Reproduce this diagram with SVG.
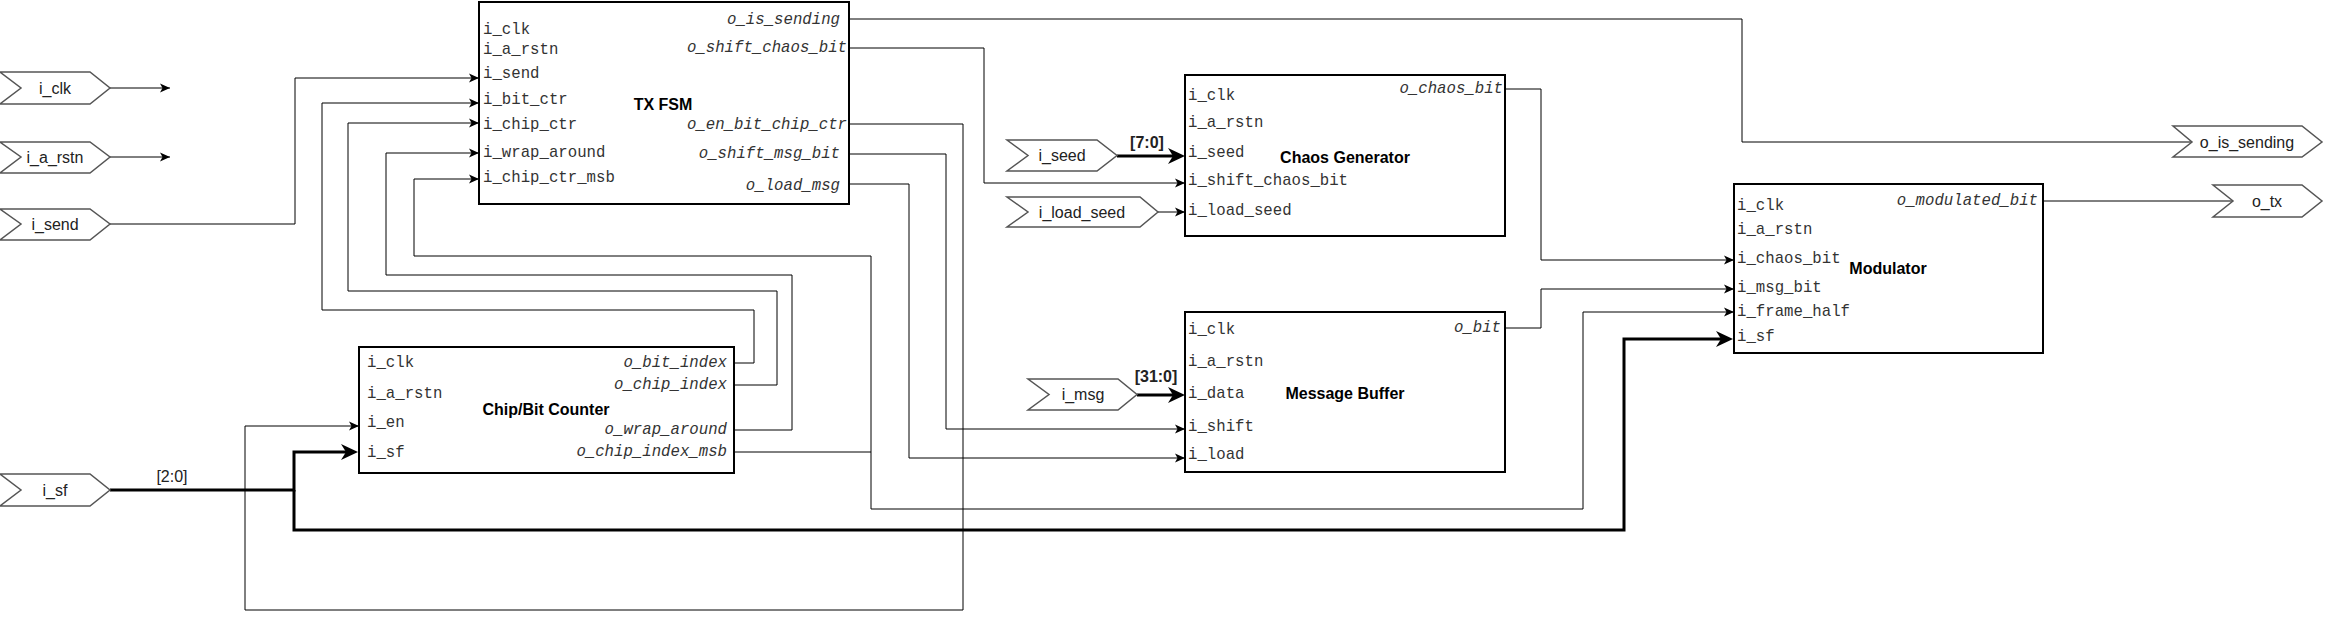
<svg xmlns="http://www.w3.org/2000/svg" width="2326" height="622" viewBox="0 0 2326 622">
<style>
.box{fill:#fff;stroke:#000;stroke-width:2}
.pin{font-family:"Liberation Mono","Courier New",monospace;font-size:15.7px;fill:#333;dominant-baseline:central}
.out{font-style:italic;text-anchor:end}
.title{font-family:"Liberation Sans",Arial,sans-serif;font-weight:bold;font-size:16px;text-anchor:middle;dominant-baseline:central;fill:#000}
.term{fill:#fff;stroke:#555;stroke-width:1.5}
.tl{font-family:"Liberation Sans",Arial,sans-serif;font-size:16px;text-anchor:middle;dominant-baseline:central;fill:#222}
.bl{font-family:"Liberation Sans",Arial,sans-serif;font-size:16px;text-anchor:middle;dominant-baseline:central;fill:#222}
.w{fill:none;stroke:#000;stroke-width:1}
.bus{fill:none;stroke:#000;stroke-width:3}
</style>
<defs>
<marker id="a" markerUnits="userSpaceOnUse" markerWidth="11" markerHeight="11" refX="10" refY="5" orient="auto" overflow="visible">
<path d="M0,0.5 L10,5 L0,9.5 L2.5,5 Z" fill="#000"/>
</marker>
<marker id="ab" markerUnits="userSpaceOnUse" markerWidth="18" markerHeight="18" refX="12" refY="8" orient="auto" overflow="visible">
<path d="M0,0 L17,8 L0,16 L5,8 Z" fill="#000"/>
</marker>
</defs>
<rect width="2326" height="622" fill="#fff"/>

<g id="connectors">
<path class="w" marker-end="url(#a)" d="M110,88 H170"/>
<path class="w" marker-end="url(#a)" d="M110,157 H170"/>
<path class="w" marker-end="url(#a)" d="M110,224 H295 V78 H479"/>
<path class="w" marker-end="url(#a)" d="M734,363 H754 V310 H322 V103 H479"/>
<path class="w" marker-end="url(#a)" d="M734,385 H777 V291 H348 V123 H479"/>
<path class="w" marker-end="url(#a)" d="M734,430 H792 V275 H386 V153 H479"/>
<path class="w" marker-end="url(#a)" d="M734,452 H871 V256 H414 V179 H479"/>
<path class="w" marker-end="url(#a)" d="M871,452 V509 H1583 V312 H1734"/>
<path class="w" d="M849,19 H1742 V142 H2192"/>
<path class="w" marker-end="url(#a)" d="M849,48 H984 V183 H1185"/>
<path class="w" marker-end="url(#a)" d="M849,124 H963 V610 H245 V426 H359"/>
<path class="w" marker-end="url(#a)" d="M849,154 H946 V429 H1185"/>
<path class="w" marker-end="url(#a)" d="M849,184 H909 V458 H1185"/>
<path class="w" marker-end="url(#a)" d="M1158,212 H1185"/>
<path class="w" marker-end="url(#a)" d="M1505,89 H1541 V260 H1734"/>
<path class="w" marker-end="url(#a)" d="M1505,328 H1541 V289 H1734"/>
<path class="w" d="M2043,201 H2233"/>
<path class="bus" marker-end="url(#ab)" d="M110,490 H294 V452 H353"/>
<path class="bus" marker-end="url(#ab)" d="M294,490 V530 H1624 V339 H1728"/>
<path class="bus" marker-end="url(#ab)" d="M1117,156 H1180"/>
<path class="bus" marker-end="url(#ab)" d="M1137,395 H1180"/>
<text class="bl" x="172" y="476">[2:0]</text>
<text class="bl" x="1147" y="142" font-weight="bold">[7:0]</text>
<text class="bl" x="1156" y="376" font-weight="bold">[31:0]</text>
</g>

<g id="in_i_clk">
<polygon class="term" points="0,72 90,72 110,88 90,104 0,104 21,88"/>
<text class="tl" x="55" y="88">i_clk</text>
</g>
<g id="in_i_a_rstn">
<polygon class="term" points="0,142 90,142 110,157 90,173 0,173 21,157"/>
<text class="tl" x="55" y="157">i_a_rstn</text>
</g>
<g id="in_i_send">
<polygon class="term" points="0,209 90,209 110,224 90,240 0,240 21,224"/>
<text class="tl" x="55" y="224">i_send</text>
</g>
<g id="in_i_sf">
<polygon class="term" points="0,474 90,474 110,490 90,506 0,506 21,490"/>
<text class="tl" x="55" y="490">i_sf</text>
</g>
<g id="in_i_seed">
<polygon class="term" points="1007,140 1097,140 1117,155.5 1097,171 1007,171 1028,155.5"/>
<text class="tl" x="1062" y="155.5">i_seed</text>
</g>
<g id="in_i_load_seed">
<polygon class="term" points="1007,197 1140,197 1158,212 1140,227 1007,227 1028,212"/>
<text class="tl" x="1082" y="212">i_load_seed</text>
</g>
<g id="in_i_msg">
<polygon class="term" points="1028,379 1118,379 1137,394.5 1118,410 1028,410 1049,394.5"/>
<text class="tl" x="1083" y="394.5">i_msg</text>
</g>
<g id="out_o_is_sending">
<polygon class="term" points="2173,126 2302,126 2322,142 2302,157 2173,157 2192,142"/>
<text class="tl" x="2247" y="142">o_is_sending</text>
</g>
<g id="out_o_tx">
<polygon class="term" points="2213,185 2302,185 2322,201 2302,217 2213,217 2233,201"/>
<text class="tl" x="2267" y="201">o_tx</text>
</g>

<g id="tx_fsm">
<rect class="box" x="479" y="2" width="370" height="202"/>
<text class="title" x="663" y="104">TX FSM</text>
<text class="pin" x="483" y="30">i_clk</text>
<text class="pin" x="483" y="50">i_a_rstn</text>
<text class="pin" x="483" y="74">i_send</text>
<text class="pin" x="483" y="100">i_bit_ctr</text>
<text class="pin" x="483" y="125">i_chip_ctr</text>
<text class="pin" x="483" y="153">i_wrap_around</text>
<text class="pin" x="483" y="178">i_chip_ctr_msb</text>
<text class="pin out" x="840" y="20">o_is_sending</text>
<text class="pin out" x="847" y="48">o_shift_chaos_bit</text>
<text class="pin out" x="847" y="125">o_en_bit_chip_ctr</text>
<text class="pin out" x="840" y="154">o_shift_msg_bit</text>
<text class="pin out" x="840" y="186">o_load_msg</text>
</g>

<g id="chip_bit_counter">
<rect class="box" x="359" y="347" width="375" height="126"/>
<text class="title" x="546" y="409">Chip/Bit Counter</text>
<text class="pin" x="367" y="363">i_clk</text>
<text class="pin" x="367" y="394">i_a_rstn</text>
<text class="pin" x="367" y="423">i_en</text>
<text class="pin" x="367" y="453">i_sf</text>
<text class="pin out" x="727" y="363">o_bit_index</text>
<text class="pin out" x="727" y="385">o_chip_index</text>
<text class="pin out" x="727" y="430">o_wrap_around</text>
<text class="pin out" x="727" y="452">o_chip_index_msb</text>
</g>

<g id="chaos_generator">
<rect class="box" x="1185" y="75" width="320" height="161"/>
<text class="title" x="1345" y="157">Chaos Generator</text>
<text class="pin" x="1188" y="96">i_clk</text>
<text class="pin" x="1188" y="123">i_a_rstn</text>
<text class="pin" x="1188" y="153">i_seed</text>
<text class="pin" x="1188" y="181">i_shift_chaos_bit</text>
<text class="pin" x="1188" y="211">i_load_seed</text>
<text class="pin out" x="1503" y="89">o_chaos_bit</text>
</g>

<g id="message_buffer">
<rect class="box" x="1185" y="312" width="320" height="160"/>
<text class="title" x="1345" y="393">Message Buffer</text>
<text class="pin" x="1188" y="330">i_clk</text>
<text class="pin" x="1188" y="362">i_a_rstn</text>
<text class="pin" x="1188" y="394">i_data</text>
<text class="pin" x="1188" y="427">i_shift</text>
<text class="pin" x="1188" y="455">i_load</text>
<text class="pin out" x="1501" y="328">o_bit</text>
</g>

<g id="modulator">
<rect class="box" x="1734" y="184" width="309" height="169"/>
<text class="title" x="1888" y="268">Modulator</text>
<text class="pin" x="1737" y="206">i_clk</text>
<text class="pin" x="1737" y="230">i_a_rstn</text>
<text class="pin" x="1737" y="259">i_chaos_bit</text>
<text class="pin" x="1737" y="288">i_msg_bit</text>
<text class="pin" x="1737" y="312">i_frame_half</text>
<text class="pin" x="1737" y="337">i_sf</text>
<text class="pin out" x="2038" y="201">o_modulated_bit</text>
</g>
</svg>
